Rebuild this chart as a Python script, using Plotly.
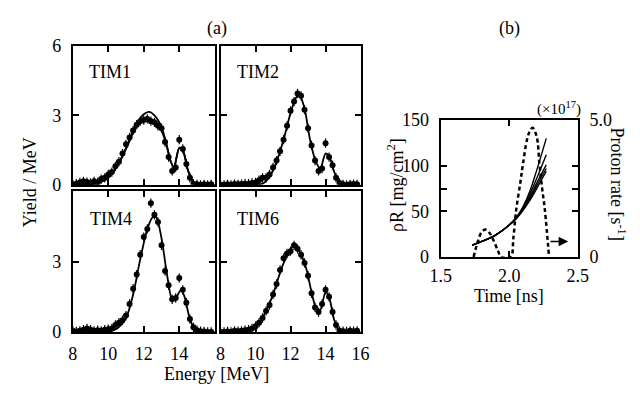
import plotly.graph_objects as go

# ---------------- data: panel (a) ----------------
E_data = [8.0, 8.2, 8.4, 8.6, 8.8, 9.0, 9.2, 9.4, 9.6, 9.8,
          10.0, 10.2, 10.4, 10.6, 10.8, 11.0, 11.2, 11.4, 11.6, 11.8,
          12.0, 12.2, 12.4, 12.6, 12.8, 13.0, 13.2, 13.4, 13.6, 13.8,
          14.0, 14.2, 14.4, 14.6, 14.8, 15.0, 15.2, 15.4, 15.6, 15.8]

tim1_y = [0.02, 0.05, 0.10, 0.15, 0.12, 0.08, 0.15, 0.10, 0.25, 0.30,
          0.45, 0.55, 0.80, 1.00, 1.35, 1.75, 2.05, 2.35, 2.60, 2.75,
          2.80, 2.85, 2.75, 2.70, 2.55, 2.45, 1.85, 1.20, 0.60, 0.75,
          1.95, 1.55, 0.90, 0.30, 0.05, 0.02, 0.00, 0.02, 0.00, 0.02]
tim2_y = [0.00, 0.00, 0.02, 0.00, 0.03, 0.02, 0.03, 0.05, 0.05, 0.08,
          0.10, 0.20, 0.30, 0.30, 0.45, 0.75, 1.05, 1.45, 1.95, 2.55,
          3.20, 3.60, 3.95, 3.85, 3.25, 2.45, 1.70, 1.05, 0.60, 0.70,
          1.80, 1.20, 0.85, 0.30, 0.08, 0.02, 0.00, 0.02, 0.03, 0.02]
tim4_y = [0.05, 0.02, 0.05, 0.10, 0.15, 0.10, 0.05, 0.08, 0.05, 0.10,
          0.12, 0.15, 0.30, 0.40, 0.50, 0.70, 1.20, 1.85, 2.45, 3.30,
          4.05, 4.40, 5.50, 5.00, 4.70, 3.70, 2.60, 2.00, 1.40, 1.45,
          2.30, 1.80, 1.25, 0.55, 0.20, 0.08, 0.03, 0.02, 0.00, 0.00]
tim6_y = [0.00, 0.00, 0.02, 0.00, 0.05, 0.03, 0.05, 0.08, 0.10, 0.15,
          0.25, 0.40, 0.60, 0.90, 1.15, 1.60, 2.05, 2.65, 3.15, 3.35,
          3.45, 3.70, 3.55, 3.30, 2.95, 2.40, 1.65, 1.05, 0.85, 1.20,
          1.80, 1.50, 0.85, 0.30, 0.05, 0.03, 0.02, 0.05, 0.03, 0.05]

tim1_fitA_E = [8.0, 9.0, 9.5, 10.0, 10.5, 11.0, 11.5, 12.0, 12.3, 12.6, 13.0, 13.3, 13.5, 13.7, 14.0, 14.2, 14.5, 14.8, 15.0, 16.0]
tim1_fitA_y = [0.0, 0.02, 0.10, 0.30, 0.80, 1.60, 2.50, 3.05, 3.15, 3.00, 2.50, 1.70, 1.05, 0.75, 1.60, 1.50, 0.60, 0.10, 0.02, 0.0]
tim1_fitB_E = [8.0, 9.0, 9.5, 10.0, 10.5, 11.0, 11.5, 12.0, 12.3, 12.6, 13.0, 13.3, 13.5, 13.7, 14.0, 14.2, 14.5, 14.8, 15.0, 16.0]
tim1_fitB_y = [0.0, 0.02, 0.10, 0.30, 0.80, 1.55, 2.40, 2.80, 2.85, 2.75, 2.35, 1.65, 1.05, 0.75, 1.60, 1.50, 0.60, 0.10, 0.02, 0.0]

tim2_fit_E = [8.0, 9.0, 10.0, 10.4, 10.8, 11.2, 11.6, 12.0, 12.3, 12.5, 12.8, 13.1, 13.4, 13.7, 14.0, 14.2, 14.5, 14.8, 15.2, 16.0]
tim2_fit_y = [0.0, 0.0, 0.02, 0.05, 0.35, 1.00, 1.95, 3.10, 3.75, 3.90, 3.30, 2.00, 1.10, 0.70, 1.35, 1.25, 0.55, 0.10, 0.0, 0.0]

tim4_fit_E = [8.0, 10.0, 10.5, 11.0, 11.4, 11.8, 12.2, 12.5, 12.7, 13.0, 13.3, 13.6, 13.8, 14.1, 14.3, 14.6, 14.9, 15.2, 16.0]
tim4_fit_y = [0.0, 0.02, 0.15, 0.60, 1.60, 3.10, 4.40, 4.90, 4.90, 4.00, 2.50, 1.40, 1.45, 1.80, 1.50, 0.55, 0.10, 0.0, 0.0]

tim6_fit_E = [8.0, 9.0, 9.5, 10.0, 10.5, 11.0, 11.5, 12.0, 12.2, 12.5, 12.9, 13.2, 13.5, 13.7, 14.0, 14.2, 14.5, 14.8, 15.2, 16.0]
tim6_fit_y = [0.0, 0.03, 0.10, 0.25, 0.75, 1.60, 2.75, 3.55, 3.65, 3.45, 2.70, 1.70, 0.95, 0.95, 1.70, 1.50, 0.50, 0.08, 0.0, 0.0]

# ---------------- data: panel (b) ----------------
t_rate = [1.74, 1.77, 1.80, 1.83, 1.86, 1.89, 1.92, 1.94, 2.01, 2.03, 2.05,
          2.08, 2.10, 2.13, 2.15, 2.17, 2.20, 2.22, 2.24, 2.26, 2.29]
proton_rate = [0.0, 0.55, 0.92, 1.0, 0.85, 0.55, 0.2, 0.0, 0.0, 0.7, 1.7,
               2.7, 3.4, 4.3, 4.6, 4.72, 4.4, 3.4, 2.5, 1.7, 0.0]

t_rho = [1.73, 1.80, 1.90, 2.00, 2.05, 2.10, 2.15, 2.20, 2.27]
rhoR_curves = [
    [13, 17, 24, 35, 43, 55, 72, 95, 130],
    [13, 17, 24, 35, 43, 54, 69, 86, 112],
    [13, 17, 24, 35, 43, 53, 66, 81, 101],
    [13, 17, 24, 35, 42, 52, 64, 78, 97],
    [13, 17, 24, 35, 42, 51, 62, 75, 94],
]

FONT = "Liberation Serif"
FS = 18
W, H = 640, 399

def px_x(p):
    return p / W

def px_y(p):
    return 1 - p / H

fig = go.Figure()

panels = [
    ("x", "y", tim1_y, [(tim1_fitA_E, tim1_fitA_y), (tim1_fitB_E, tim1_fitB_y)]),
    ("x2", "y2", tim2_y, [(tim2_fit_E, tim2_fit_y)]),
    ("x3", "y3", tim4_y, [(tim4_fit_E, tim4_fit_y)]),
    ("x4", "y4", tim6_y, [(tim6_fit_E, tim6_fit_y)]),
]
for xa, ya, yd, fits in panels:
    for fe, fy in fits:
        fig.add_trace(go.Scatter(x=fe, y=fy, xaxis=xa, yaxis=ya, mode="lines",
                                 line=dict(color="black", width=1.8, shape="spline", smoothing=0.8),
                                 showlegend=False, hoverinfo="skip"))
    fig.add_trace(go.Scatter(x=E_data, y=yd, xaxis=xa, yaxis=ya, mode="markers",
                             marker=dict(color="black", size=6),
                             error_y=dict(type="constant", value=0.2, color="black", thickness=1.2, width=0),
                             showlegend=False, hoverinfo="skip"))

for curve in rhoR_curves:
    fig.add_trace(go.Scatter(x=t_rho, y=curve, xaxis="x5", yaxis="y5", mode="lines",
                             line=dict(color="black", width=1.4, shape="spline"),
                             showlegend=False, hoverinfo="skip"))
fig.add_trace(go.Scatter(x=t_rate, y=proton_rate, xaxis="x5", yaxis="y6", mode="lines",
                         line=dict(color="black", width=2.5, dash="4px,3px", shape="spline"),
                         showlegend=False, hoverinfo="skip"))

tickfont = dict(family=FONT, size=FS, color="black")
common = dict(showline=True, linewidth=2, linecolor="black", mirror="ticks",
              ticks="inside", ticklen=6, tickwidth=1.5, tickcolor="black",
              showgrid=False, zeroline=False, tickfont=tickfont, fixedrange=True)

xd_left = [px_x(64), px_x(211)]
xd_right = [px_x(217), px_x(362)]
yd_top = [px_y(184), px_y(38)]
yd_bot = [px_y(339), px_y(191)]

def xax(domain, anchor, labels):
    return dict(common, domain=domain, anchor=anchor, range=[8, 16],
                tickvals=[8, 10, 12, 14, 16], ticktext=labels, ticklabelstandoff=4)

def yax(domain, anchor, labels):
    return dict(common, domain=domain, anchor=anchor, range=[0, 6],
                tickvals=[0, 3, 6], ticktext=labels, ticklabelstandoff=6)

blank5 = [""] * 5
blank3 = [""] * 3
fig.update_layout(
    width=W, height=H,
    margin=dict(l=0, r=0, t=0, b=0),
    paper_bgcolor="white", plot_bgcolor="white",
    font=dict(family=FONT, size=FS, color="black"),
    xaxis=xax(xd_left, "y", blank5),
    yaxis=yax(yd_top, "x", ["0", "3", "6"]),
    xaxis2=xax(xd_right, "y2", blank5),
    yaxis2=yax(yd_top, "x2", blank3),
    xaxis3=xax(xd_left, "y3", ["8", "10", "12", "14", ""]),
    yaxis3=yax(yd_bot, "x3", ["0", "3", ""]),
    xaxis4=xax(xd_right, "y4", ["8", "10", "12", "14", "16"]),
    yaxis4=yax(yd_bot, "x4", blank3),
    xaxis5=dict(common, domain=[px_x(445), px_x(587)], anchor="y5", range=[1.5, 2.5],
                tickvals=[1.5, 2.0, 2.5], ticktext=["1.5", "2.0", "2.5"], ticklabelstandoff=1),
    yaxis5=dict(common, domain=[px_y(260), px_y(116)], anchor="x5", range=[0, 150],
                tickvals=[0, 50, 100, 150], ticktext=["0", "50", "100", "150"], ticklabelstandoff=6),
    yaxis6=dict(common, domain=[px_y(260), px_y(116)], anchor="x5", overlaying="y5", side="right",
                range=[0, 5], tickvals=[0, 2.5, 5], ticktext=["0", "", "5.0"], ticklabelstandoff=6),
)

ann = []
def txt(x, y, s, angle=0, xanchor="center", yanchor="middle", size=FS):
    ann.append(dict(x=px_x(x), y=px_y(y), xref="paper", yref="paper", text=s, showarrow=False,
                    textangle=angle, xanchor=xanchor, yanchor=yanchor,
                    font=dict(family=FONT, size=size, color="black")))

txt(213, 20, "(a)")
txt(516, 20, "(b)")
txt(79, 65, "TIM1", xanchor="left")
txt(232, 65, "TIM2", xanchor="left")
txt(80, 220, "TIM4", xanchor="left")
txt(232, 220, "TIM6", xanchor="left")
txt(20, 181, "Yield / MeV", angle=-90)
txt(213, 383, "Energy [MeV]")
txt(516, 301, "Time [ns]")
txt(399, 184, "ρR [mg/cm<sup>2</sup>]", angle=-90)
txt(628, 183, "Proton rate [s<sup>-1</sup>]", angle=90)
txt(568, 104, "(×10<sup>17</sup>)", size=15)

ann.append(dict(x=2.43, y=17, xref="x5", yref="y5", ax=2.29, ay=17, axref="x5", ayref="y5",
                text="", showarrow=True, arrowhead=2, arrowsize=1.2, arrowwidth=1.6, arrowcolor="black"))

fig.update_layout(annotations=ann)
fig.write_html("out.html")
